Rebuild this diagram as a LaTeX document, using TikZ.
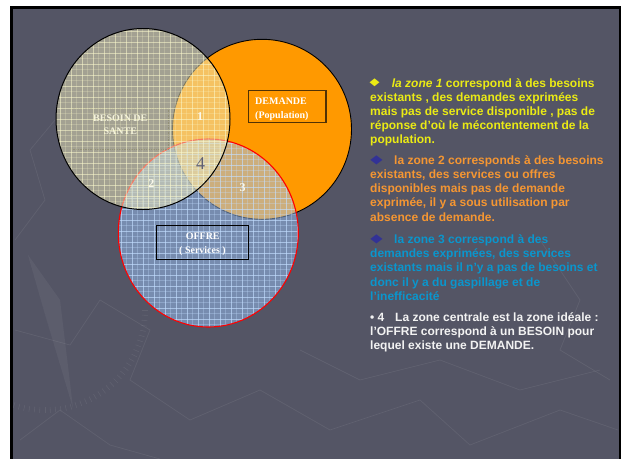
\documentclass[tikz,border=0pt]{standalone}
\usepackage{graphicx}
\usepackage{fontspec}
\setmainfont{Liberation Sans}
\newfontfamily\serifb{Liberation Serif}
\newfontfamily\dvs{DejaVu Sans}
\definecolor{slidebg}{RGB}{84,85,101}
\definecolor{orangeD}{RGB}{255,153,0}
\definecolor{creamF}{RGB}{236,232,188}
\definecolor{creamL}{RGB}{252,250,205}
\definecolor{blueF}{RGB}{155,195,250}
\definecolor{blueL}{RGB}{195,222,255}
\definecolor{yellowtxt}{RGB}{235,235,20}
\definecolor{orangetxt}{RGB}{245,150,50}
\definecolor{cyantxt}{RGB}{10,150,205}
\definecolor{whitetxt}{RGB}{242,242,242}
\definecolor{bulletblue}{RGB}{50,50,150}
\definecolor{numcol}{RGB}{250,248,235}
\definecolor{fourcol}{RGB}{95,95,115}
\definecolor{dembrd}{RGB}{80,50,5}
\tikzset{
  para/.style={anchor=base west, inner sep=0pt, font=\bfseries\fontsize{12}{14}\selectfont},
  lbl/.style={inner sep=0pt, font=\serifb\bfseries\fontsize{10}{12}\selectfont, text=white},
  num/.style={inner sep=0pt, font=\serifb\bfseries\fontsize{12}{14}\selectfont, text=numcol},
  boxrect/.style={draw, rectangle, inner sep=0pt, line width=1.3pt},
  bblue/.style={inner sep=0pt, text=bulletblue, font=\dvs\fontsize{16}{16}\selectfont},
  deco/.style={draw=white, draw opacity=0.07, line width=0.7pt},
}
\begin{document}
\begin{tikzpicture}[x=1pt,y=-1pt]
\useasboundingbox (0,0) rectangle (621,459);
\fill[white] (0,0) rectangle (621,459);
\fill[black] (10,6) rectangle (621,459);
\fill[slidebg] (13,9) rectangle (618.5,459);

% faint background decoration (compass and map lines)
\begin{scope}
  \clip (13,9) rectangle (618.5,459);
  \fill[white, fill opacity=0.05] (28,255) -- (60,300) -- (73,408) -- cycle;
  \fill[white, fill opacity=0.03] (28,255) -- (45,315) -- (73,408) -- cycle;
  \foreach \a in {0,3,...,110} {
    \draw[white, draw opacity=0.07, line width=0.6pt] (45,310) ++(\a:97) -- ++(\a:6);
  }
  \draw[deco] (15,330) -- (70,345) -- (100,300) -- (150,330) -- (130,380) -- (190,420) -- (260,390) -- (330,430) -- (420,400) -- (470,445) -- (560,410) -- (618,430);
  \draw[deco] (20,440) -- (60,410) -- (110,445) -- (160,459);
  \draw[deco] (300,350) -- (360,380) -- (440,360) -- (520,390) -- (600,370);
  \draw[deco] (540,240) -- (580,300) -- (560,350) -- (610,380);
  \draw[deco] (15,240) -- (45,200) -- (30,150) -- (55,120);
\end{scope}

\coordinate (cb) at (143,119);
\coordinate (cd) at (262,129.3);
\coordinate (co) at (208.3,233);

% DEMANDE circle
\fill[orangeD] (cd) ellipse [x radius=89.5, y radius=90];
\draw[black, line width=0.9pt] (cd) ellipse [x radius=89.5, y radius=90];

% OFFRE circle
\begin{scope}
  \clip (co) ellipse [x radius=90, y radius=94];
  \fill[blueF, fill opacity=0.5] (co) ellipse [x radius=90, y radius=94];
  \foreach \k in {0,...,18} {
    \draw[blueL, line width=0.5pt, opacity=0.3] ({115.5+11*\k},130) -- ({115.5+11*\k},332);
    \draw[blueL, line width=0.5pt, opacity=0.3] (108,{137.5+11*\k}) -- (310,{137.5+11*\k});
    \draw[blueL, line width=0.9pt, opacity=0.65] ({110+11*\k},130) -- ({110+11*\k},332);
    \draw[blueL, line width=0.9pt, opacity=0.65] (108,{132+11*\k}) -- (310,{132+11*\k});
  }
\end{scope}
\draw[red, line width=1.1pt] (co) ellipse [x radius=90, y radius=94];

% BESOIN box and label (under the translucent circle)
\node[draw={rgb,255:red,50;green,50;blue,45}, rectangle, line width=0.7pt, densely dotted, minimum width=97.3pt, minimum height=40.7pt, inner sep=0pt] (bbox) at (119.65,128.65) {};
\node[lbl, anchor=base] (b1) at (120.3,121.5) {BESOIN DE};
\node[lbl, anchor=base] (b2) at (120.3,134) {SANTE};

% BESOIN circle
\begin{scope}
  \clip (cb) ellipse [x radius=87, y radius=90.5];
  \fill[creamF, fill opacity=0.52] (cb) ellipse [x radius=87, y radius=90.5];
  \foreach \k in {0,...,18} {
    \draw[creamL, line width=0.5pt, opacity=0.22] ({54.5+11*\k},20) -- ({54.5+11*\k},222);
    \draw[creamL, line width=0.5pt, opacity=0.22] (50,{25.5+11*\k}) -- (240,{25.5+11*\k});
    \draw[creamL, line width=0.9pt, opacity=0.55] ({49+11*\k},20) -- ({49+11*\k},222);
    \draw[creamL, line width=0.9pt, opacity=0.55] (50,{20+11*\k}) -- (240,{20+11*\k});
  }
\end{scope}
\draw[black, line width=1pt] (cb) ellipse [x radius=87, y radius=90.5];

% DEMANDE box
\node[boxrect, draw=dembrd, minimum width=77.7pt, minimum height=32pt] (dbox) at (287.2,106.7) {};
\node[lbl, anchor=base west] (d1) at (255,104) {DEMANDE};
\node[lbl, anchor=base west] (d2) at (255,118) {(Population)};

% OFFRE box
\node[boxrect, draw=black, minimum width=92pt, minimum height=33.6pt] (obox) at (202.7,242.5) {};
\node[lbl, anchor=base] (o1) at (202.7,239.5) {OFFRE};
\node[lbl, anchor=base] (o2) at (202.5,253) {( Services )};

% zone numbers
\node[num] (z1) at (200,116.7) {1};
\node[num] (z2) at (151.3,183.3) {2};
\node[num] (z3) at (242.7,187.7) {3};
\node[inner sep=0pt, font=\serifb\fontsize{18}{20}\selectfont, text=fourcol] (z4) at (200.7,163.3) {4};

% right-hand text
\node[inner sep=0pt, text=yellowtxt, font=\dvs\fontsize{13}{14}\selectfont] (p1b) at (374.7,82.7) {\scalebox{1}[0.8]{◆}};
\node[para, text=yellowtxt] (p1a) at (391.7,87) {\textit{la zone 1} correspond à des besoins};
\node[para, text=yellowtxt] (p1c) at (370,101) {existants , des demandes exprimées};
\node[para, text=yellowtxt] (p1d) at (370,115) {mais pas de service disponible , pas de};
\node[para, text=yellowtxt] (p1e) at (370,129) {réponse d’où le mécontentement de la};
\node[para, text=yellowtxt] (p1f) at (370,143) {population.};

\node[bblue] (p2b) at (376.5,160) {\scalebox{1}[0.75]{◆}};
\node[para, text=orangetxt] (p2a) at (394,164.3) {la zone 2 corresponds à des besoins};
\node[para, text=orangetxt] (p2c) at (370,178.5) {existants, des services ou offres};
\node[para, text=orangetxt] (p2d) at (370,192.7) {disponibles mais pas de demande};
\node[para, text=orangetxt] (p2e) at (370,206.9) {exprimée, il y a sous utilisation par};
\node[para, text=orangetxt] (p2f) at (370,221.1) {absence de demande.};

\node[bblue] (p3b) at (376.5,239) {\scalebox{1}[0.75]{◆}};
\node[para, text=cyantxt] (p3a) at (394,243.4) {la zone 3 correspond à des};
\node[para, text=cyantxt] (p3c) at (370,257.6) {demandes exprimées, des services};
\node[para, text=cyantxt] (p3d) at (370,271.8) {existants mais il n’y a pas de besoins et};
\node[para, text=cyantxt] (p3e) at (370,286) {donc il y a du gaspillage et de};
\node[para, text=cyantxt] (p3f) at (370,300.2) {l’inefficacité};

\node[para, text=whitetxt] (p4b) at (370,321.3) {• 4};
\node[para, text=whitetxt] (p4a) at (395,321.3) {La zone centrale est la zone idéale :};
\node[para, text=whitetxt] (p4c) at (370,335.5) {l’OFFRE correspond à un BESOIN pour};
\node[para, text=whitetxt] (p4d) at (370,349.7) {lequel existe une DEMANDE.};
\end{tikzpicture}
\end{document}
